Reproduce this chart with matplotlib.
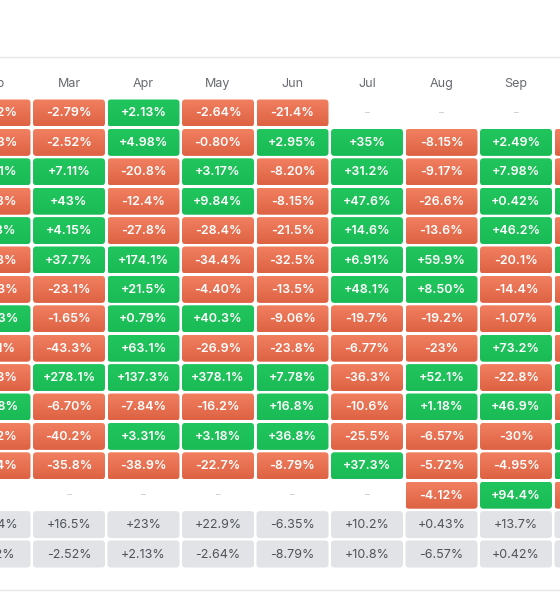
import numpy as np
import matplotlib
matplotlib.use("Agg")
import matplotlib.pyplot as plt
from matplotlib.patches import FancyBboxPatch

plt.rcParams['font.family'] = ['Inter', 'DejaVu Sans']

# Monthly returns (%), only the columns that show in the crop; None = no data
months = ['Feb', 'Mar', 'Apr', 'May', 'Jun', 'Jul', 'Aug', 'Sep', 'Oct']

feb = [-3.22, -5.83, 8.01, -12.3, 11.3, -15.3, -6.03, 4.33, -19.1, -7.73, 24.8, -10.2, -27.4, None]
mar = [-2.79, -2.52, 7.11, 43, 4.15, 37.7, -23.1, -1.65, -43.3, 278.1, -6.70, -40.2, -35.8, None]
apr = [2.13, 4.98, -20.8, -12.4, -27.8, 174.1, 21.5, 0.79, 63.1, 137.3, -7.84, 3.31, -38.9, None]
may = [-2.64, -0.80, 3.17, 9.84, -28.4, -34.4, -4.40, 40.3, -26.9, 378.1, -16.2, 3.18, -22.7, None]
jun = [-21.4, 2.95, -8.20, -8.15, -21.5, -32.5, -13.5, -9.06, -23.8, 7.78, 16.8, 36.8, -8.79, None]
jul = [None, 35, 31.2, 47.6, 14.6, 6.91, 48.1, -19.7, -6.77, -36.3, -10.6, -25.5, 37.3, None]
aug = [None, -8.15, -9.17, -26.6, -13.6, 59.9, 8.50, -19.2, -23, 52.1, 1.18, -6.57, -5.72, -4.12]
sep = [None, 2.49, 7.98, 0.42, 46.2, -20.1, -14.4, -1.07, 73.2, -22.8, 46.9, -30, -4.95, 94.4]
oct_ = [None, -3.1, -11.2, 28.5, -7.54, 9.33, -4.9, 18.2, -14.5, 40.1, -12.8, 23.6, 4.8, -0.9]

average = [6.54, 16.5, 23, 22.9, -6.35, 10.2, 0.43, 13.7, 5.2]
median = [-1.12, -2.52, 2.13, -2.64, -8.79, 10.8, -6.57, 0.42, 1.9]

columns = [feb, mar, apr, may, jun, jul, aug, sep, oct_]


def fmt(v):
    if abs(v) < 10:
        s = f"{v:+.2f}"
    else:
        s = f"{v:+.1f}"
        if s.endswith(".0"):
            s = s[:-2]
    return s + "%"


RED_TOP, RED_BOT = np.array([241, 128, 96]) / 255, np.array([222, 98, 68]) / 255
GRN_TOP, GRN_BOT = np.array([33, 197, 93]) / 255, np.array([26, 187, 86]) / 255
GRAY = '#e1e3e7'

fig = plt.figure(figsize=(5.6, 6), dpi=100)
ax = fig.add_axes([0, 0, 1, 1])

x_mar, pitch_x = 69, 74.5
y_first, pitch_y = 113, 29.4
cw, ch = 72, 27


def cell(cx, cy, top, bot):
    x0, y0 = cx - cw / 2, cy - ch / 2
    patch = FancyBboxPatch((x0, y0), cw, ch, boxstyle="round,pad=0,rounding_size=3.5",
                           facecolor='none', edgecolor='none')
    ax.add_patch(patch)
    grad = np.linspace(top, bot, 32).reshape(32, 1, 3)
    im = ax.imshow(grad, extent=[x0, x0 + cw, y0 + ch, y0], origin='upper',
                   aspect='auto', interpolation='bilinear', zorder=1)
    im.set_clip_path(patch)


for j, (name, col) in enumerate(zip(months, columns)):
    cx = x_mar + (j - 1) * pitch_x
    ax.text(cx, 84, name, ha='center', va='center', fontsize=9, color='#66696e')
    for i, v in enumerate(col):
        cy = y_first + i * pitch_y
        if v is None:
            ax.text(cx, cy, '–', ha='center', va='center', fontsize=7, color='#c9cbce')
            continue
        if v >= 0:
            cell(cx, cy, GRN_TOP, GRN_BOT)
        else:
            cell(cx, cy, RED_TOP, RED_BOT)
        ax.text(cx, cy + 0.5, fmt(v), ha='center', va='center', fontsize=9,
                color='white', fontweight='semibold', zorder=3)
    for k, v in enumerate((average[j], median[j])):
        cy = y_first + (len(col) + k) * pitch_y
        ax.add_patch(FancyBboxPatch((cx - cw / 2, cy - ch / 2), cw, ch,
                                    boxstyle="round,pad=0,rounding_size=3.5",
                                    facecolor=GRAY, edgecolor='none', zorder=1))
        ax.text(cx, cy + 0.5, fmt(v), ha='center', va='center', fontsize=9,
                color='#4f5359', zorder=3)

ax.axhline(57, color='#e6e7e9', lw=1)
ax.axhline(590, color='#e6e7e9', lw=1)

ax.set_xlim(0, 560)
ax.set_ylim(600, 0)
ax.axis('off')
fig.savefig('out.png', dpi=100)
